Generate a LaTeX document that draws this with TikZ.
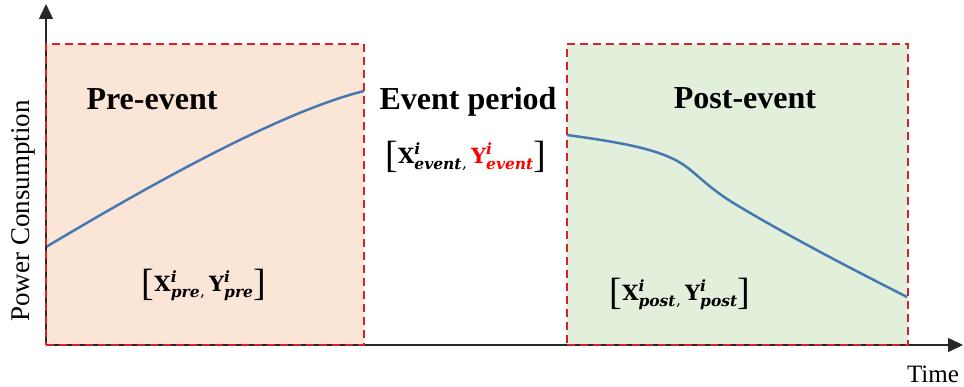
\documentclass[tikz,border=0pt]{standalone}
\usepackage{fontspec}
\setmainfont{Liberation Serif}
\newfontfamily\dvs{DejaVu Serif}
\usepackage{amsmath}
\usetikzlibrary{arrows.meta}
\definecolor{preFill}{RGB}{251,229,214}
\definecolor{postFill}{RGB}{226,239,218}
\definecolor{boxRed}{RGB}{212,34,40}
\definecolor{curveBlue}{RGB}{70,120,178}
\definecolor{axisGray}{RGB}{40,40,40}
\definecolor{hiRed}{RGB}{255,0,0}
\newcommand{\bX}[1]{\text{\dvs\bfseries\fontsize{21}{24}\selectfont #1}}
\newcommand{\bS}[1]{\text{\dvs\bfseries\itshape\fontsize{15.5}{18}\selectfont #1}}
\newcommand{\brk}[1]{\text{\fontsize{38}{40}\selectfont\raisebox{-4.5pt}{#1}}}
\newcommand{\cma}{\text{\dvs\fontsize{15.5}{18}\selectfont\raisebox{-5pt}{,}}\,}
\begin{document}
\begin{tikzpicture}[x=1pt,y=-1pt,
  regionbox/.style={draw=boxRed, line width=2pt, dash pattern=on 8pt off 5pt,
    anchor=north west, inner sep=0pt, outer sep=0pt},
  heading/.style={font=\fontsize{32}{38}\selectfont\bfseries, anchor=base, inner sep=0pt},
  setlabel/.style={font=\fontsize{26}{30}\selectfont, inner sep=0pt},
  axislabel/.style={font=\fontsize{25}{30}\selectfont, inner sep=0pt, anchor=base},
  axisline/.style={draw=axisGray, line width=1.5pt, -{Triangle[length=15pt,width=14pt]}},
  curve/.style={draw=curveBlue, line width=2.5pt}]
\useasboundingbox (0,0) rectangle (964,387);
% fills
\fill[preFill] (46,44) rectangle (364,345);
\fill[postFill] (567,44) rectangle (908,345);
% curves
\draw[curve] (46,247) .. controls (150,185) and (280,112) .. (364,91);
\draw[curve] (567,135) .. controls (625,143) and (665,150) .. (688,168)
  .. controls (703,180) and (712,190) .. (735,204)
  .. controls (790,237) and (850,268) .. (907,297);
% axes
\coordinate (O) at (46,345);
\coordinate (ytop) at (46,4);
\coordinate (xend) at (963,345);
\draw[axisline] (O) -- (ytop);
\draw[axisline] (O) -- (xend);
% boxes
\node[regionbox, minimum width=318pt, minimum height=301pt] (prebox) at (46,44) {};
\node[regionbox, minimum width=341pt, minimum height=301pt] (postbox) at (567,44) {};
% headings
\node[heading] (pre) at (152,110) {Pre-event};
\node[heading] (evt) at (468,110) {Event period};
\node[heading] (post) at (745,109) {Post-event};
% set labels
\node[setlabel] (prel) at (204,285) {$\brk{[}\bX{X}^{\bS{i}}_{\bS{pre}}\cma\bX{Y}^{\bS{i}}_{\bS{pre}}\brk{]}$};
\node[setlabel] (evtl) at (466,157) {$\brk{[}\bX{X}^{\bS{i}}_{\bS{event}}\cma{\color{hiRed}\bX{Y}^{\bS{i}}_{\bS{event}}}\brk{]}$};
\node[setlabel] (postl) at (680,294) {$\brk{[}\bX{X}^{\bS{i}}_{\bS{post}}\cma\bX{Y}^{\bS{i}}_{\bS{post}}\brk{]}$};
% axis labels
\node[axislabel, rotate=90, font=\fontsize{27}{30}\selectfont] (ylab) at (29,211) {Power Consumption};
\node[axislabel] (xlab) at (933,382) {Time};
\end{tikzpicture}
\end{document}
